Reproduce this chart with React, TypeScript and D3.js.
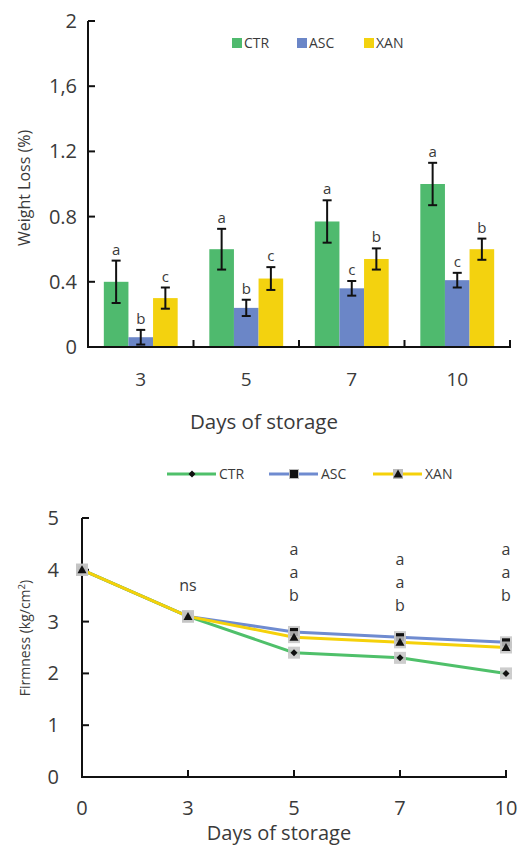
import React from "react";
import * as d3 from "d3";

// ---- Data: Weight loss (bar chart) ----
const days = ["3", "5", "7", "10"];
const series = ["CTR", "ASC", "XAN"];
const ctrLoss = [0.4, 0.6, 0.77, 1.0];
const ascLoss = [0.06, 0.24, 0.36, 0.41];
const xanLoss = [0.3, 0.42, 0.54, 0.6];
const ctrLossErr = [0.13, 0.125, 0.13, 0.13];
const ascLossErr = [0.045, 0.05, 0.045, 0.045];
const xanLossErr = [0.065, 0.07, 0.065, 0.065];
const ctrLossLetters = ["a", "a", "a", "a"];
const ascLossLetters = ["b", "b", "c", "c"];
const xanLossLetters = ["c", "c", "b", "b"];
const lossTicks = [0, 0.4, 0.8, 1.2, 1.6, 2];
const lossTickLabels = ["0", "0.4", "0.8", "1.2", "1,6", "2"];

// ---- Data: Firmness (line chart) ----
const firmDays = ["0", "3", "5", "7", "10"];
const ctrFirm = [4, 3.1, 2.4, 2.3, 2.0];
const ascFirm = [4, 3.1, 2.8, 2.7, 2.6];
const xanFirm = [4, 3.1, 2.7, 2.6, 2.5];
const firmLetters = [[], ["ns"], ["a", "a", "b"], ["a", "a", "b"], ["a", "a", "b"]];
const firmTicks = [0, 1, 2, 3, 4, 5];

const colors = { CTR: "#4fba6e", ASC: "#6b86c7", XAN: "#f3d20f" };
const lineColors = { CTR: "#4fc06a", ASC: "#6f8bd0", XAN: "#f5d10a" };
const FONT = "'Open Sans', 'Noto Sans', sans-serif";
const TXT = "#3a3a3a";

function Marker({ type, x, y }: { type: string; x: number; y: number }) {
  if (type === "CTR") {
    return <path d={`M${x},${y - 3.5}L${x + 3.5},${y}L${x},${y + 3.5}L${x - 3.5},${y}Z`} fill="#111" />;
  }
  if (type === "ASC") {
    return <rect x={x - 4} y={y - 4} width={8} height={8} fill="#111" />;
  }
  return <path d={`M${x},${y - 4.5}L${x + 4.5},${y + 3.5}L${x - 4.5},${y + 3.5}Z`} fill="#111" />;
}

export default function App() {
  // ---------- Bar chart ----------
  const bx0 = 88, bx1 = 510, by0 = 347, by1 = 21;
  const x = d3.scaleBand().domain(days).range([bx0, bx1]).paddingInner(0.3).paddingOuter(0.15);
  const xOuter = d3.scaleBand().domain(days).range([bx0, bx1]);
  const xs = d3.scaleBand().domain(series).range([0, x.bandwidth()]);
  const y = d3.scaleLinear().domain([0, 2]).range([by0, by1]);
  const vals: Record<string, number[]> = { CTR: ctrLoss, ASC: ascLoss, XAN: xanLoss };
  const errs: Record<string, number[]> = { CTR: ctrLossErr, ASC: ascLossErr, XAN: xanLossErr };
  const lets: Record<string, string[]> = { CTR: ctrLossLetters, ASC: ascLossLetters, XAN: xanLossLetters };

  // ---------- Line chart ----------
  const lx0 = 82, lx1 = 506, ly0 = 777, ly1 = 518;
  const px = d3.scalePoint().domain(firmDays).range([lx0, lx1]);
  const py = d3.scaleLinear().domain([0, 5]).range([ly0, ly1]);
  const firm: Record<string, number[]> = { CTR: ctrFirm, ASC: ascFirm, XAN: xanFirm };
  const line = d3.line<number>().x((_, i) => px(firmDays[i])!).y((v) => py(v));
  const drawOrder = ["ASC", "CTR", "XAN"];

  const legendBar = [232, 297, 364];
  const legendLine = [167, 269, 373];

  return (
    <svg width={519} height={848} style={{ position: "absolute", left: 0, top: 0, background: "#fff" }} fontFamily={FONT}>
      {/* ===== Bar chart ===== */}
      {series.map((s, i) => (
        <g key={s}>
          <rect x={legendBar[i]} y={38} width={10} height={10} fill={colors[s as keyof typeof colors]} />
          <text x={legendBar[i] + 12} y={48} fontSize={14} fill={TXT}>{s}</text>
        </g>
      ))}
      {days.map((d, di) =>
        series.map((s) => {
          const v = vals[s][di];
          const e = errs[s][di];
          const cx = x(d)! + xs(s)! + xs.bandwidth() / 2;
          return (
            <g key={d + s}>
              <rect x={x(d)! + xs(s)!} y={y(v)} width={xs.bandwidth()} height={by0 - y(v)} fill={colors[s as keyof typeof colors]} />
              <line x1={cx} x2={cx} y1={y(v + e)} y2={y(Math.max(0, v - e))} stroke="#111" strokeWidth={2} />
              <line x1={cx - 4.5} x2={cx + 4.5} y1={y(v + e)} y2={y(v + e)} stroke="#111" strokeWidth={2} />
              <line x1={cx - 4.5} x2={cx + 4.5} y1={y(Math.max(0, v - e))} y2={y(Math.max(0, v - e))} stroke="#111" strokeWidth={2} />
              <text x={cx} y={y(v + e) - 6} textAnchor="middle" fontSize={15} fill={TXT}>{lets[s][di]}</text>
            </g>
          );
        })
      )}
      {/* axes */}
      <line x1={bx0} x2={bx0} y1={by1} y2={by0 + 1} stroke="#111" strokeWidth={2} />
      <line x1={bx0} x2={bx1 + 1} y1={by0} y2={by0} stroke="#111" strokeWidth={2} />
      {lossTicks.map((t, i) => (
        <g key={t}>
          <line x1={bx0} x2={bx0 + 7} y1={y(t)} y2={y(t)} stroke="#111" strokeWidth={2} />
          <text x={77} y={y(t) + 7} textAnchor="end" fontSize={20} fill={TXT}>{lossTickLabels[i]}</text>
        </g>
      ))}
      {days.map((d) => (
        <g key={d}>
          <line x1={xOuter(d)! + xOuter.bandwidth()} x2={xOuter(d)! + xOuter.bandwidth()} y1={by0} y2={by0 - 7} stroke="#111" strokeWidth={2} />
          <text x={xOuter(d)! + xOuter.bandwidth() / 2} y={386} textAnchor="middle" fontSize={19} fill={TXT}>{d}</text>
        </g>
      ))}
      <text x={264} y={429} textAnchor="middle" fontSize={20.5} fill={TXT}>Days of storage</text>
      <text transform={`translate(30,188) rotate(-90)`} textAnchor="middle" fontSize={16} fill={TXT}>Weight Loss (%)</text>

      {/* ===== Line chart ===== */}
      {series.map((s, i) => (
        <g key={"lg" + s}>
          <line x1={legendLine[i]} x2={legendLine[i] + 49} y1={474} y2={474} stroke={lineColors[s as keyof typeof lineColors]} strokeWidth={3} />
          <rect x={legendLine[i] + 20} y={469} width={10} height={10} fill={s === "CTR" ? "none" : "#bbb"} />
          <Marker type={s} x={legendLine[i] + 25} y={474} />
          <text x={legendLine[i] + 52} y={479} fontSize={14} fill={TXT}>{s}</text>
        </g>
      ))}
      <line x1={lx0} x2={lx0} y1={ly1} y2={ly0 + 1} stroke="#111" strokeWidth={2} />
      <line x1={lx0} x2={lx1 + 1} y1={ly0} y2={ly0} stroke="#111" strokeWidth={2} />
      {firmTicks.map((t) => (
        <g key={"ft" + t}>
          <line x1={lx0} x2={lx0 + 7} y1={py(t)} y2={py(t)} stroke="#111" strokeWidth={2} />
          <text x={59} y={py(t) + 7} textAnchor="end" fontSize={20} fill={TXT}>{t}</text>
        </g>
      ))}
      {firmDays.map((d) => (
        <g key={"fd" + d}>
          {d !== "0" && <line x1={px(d)} x2={px(d)} y1={ly0} y2={ly0 - 7} stroke="#111" strokeWidth={2} />}
          <text x={px(d)} y={815} textAnchor="middle" fontSize={20} fill={TXT}>{d}</text>
        </g>
      ))}
      <text x={279} y={840} textAnchor="middle" fontSize={20} fill={TXT}>Days of storage</text>
      <text transform={`translate(30,638) rotate(-90)`} textAnchor="middle" fontSize={14} fill={TXT}>
        Firmness (kg/cm<tspan dy={-5} fontSize={9.5}>2</tspan><tspan dy={5}>)</tspan>
      </text>
      {drawOrder.map((s) => (
        <path key={"ln" + s} d={line(firm[s])!} fill="none" stroke={lineColors[s as keyof typeof lineColors]} strokeWidth={3} />
      ))}
      {drawOrder.map((s) =>
        firm[s].map((v, i) => (
          <g key={"mk" + s + i}>
            <rect x={px(firmDays[i])! - 6} y={py(v) - 6} width={12} height={12} fill="#c4c4c4" opacity={0.85} />
            <Marker type={s} x={px(firmDays[i])!} y={py(v)} />
          </g>
        ))
      )}
      {firmLetters.map((arr, i) =>
        arr.map((l, j) => {
          const top = arr.length === 1 ? 591 : firmDays[i] === "7" ? 565 : 555;
          return (
            <text key={"fl" + i + j} x={px(firmDays[i])} y={top + j * 23} textAnchor="middle" fontSize={16} fill={TXT}>{l}</text>
          );
        })
      )}
    </svg>
  );
}
